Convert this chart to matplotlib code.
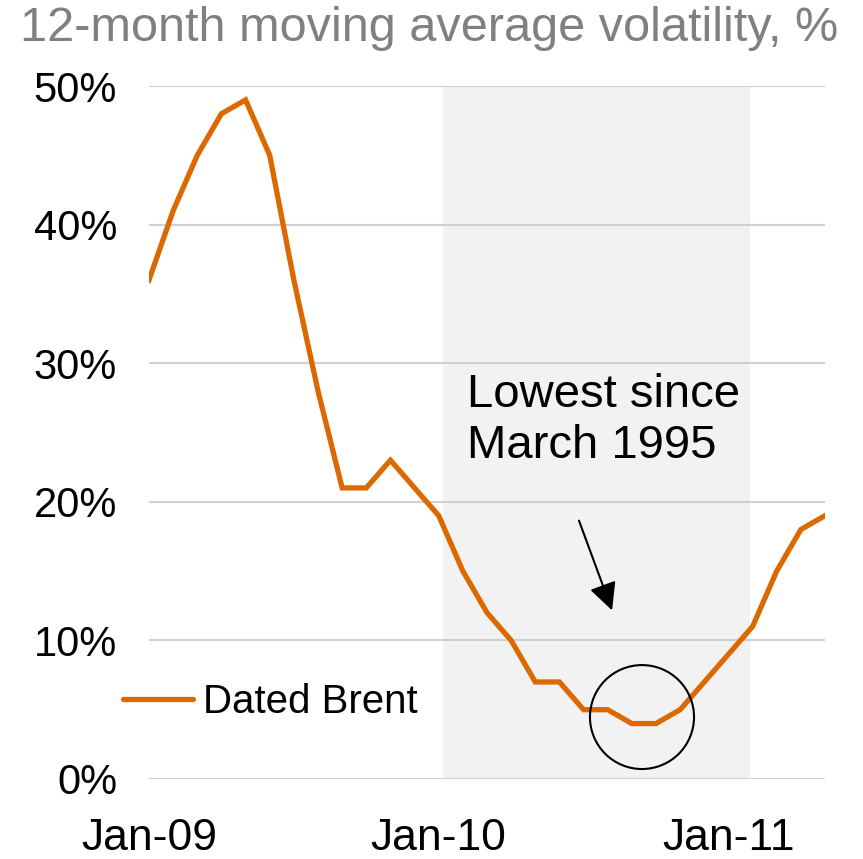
import matplotlib
matplotlib.use('Agg')
import matplotlib.pyplot as plt
from matplotlib import font_manager
from matplotlib.patches import Ellipse
import numpy as np

# monthly 12m moving average volatility, Jan-09 .. May-11
months = ['Jan-09', 'Feb-09', 'Mar-09', 'Apr-09', 'May-09', 'Jun-09', 'Jul-09', 'Aug-09',
          'Sep-09', 'Oct-09', 'Nov-09', 'Dec-09', 'Jan-10', 'Feb-10', 'Mar-10', 'Apr-10',
          'May-10', 'Jun-10', 'Jul-10', 'Aug-10', 'Sep-10', 'Oct-10', 'Nov-10', 'Dec-10',
          'Jan-11', 'Feb-11', 'Mar-11', 'Apr-11', 'May-11']
brent = [36, 41, 45, 48, 49, 45, 36, 28, 21, 21, 23, 21, 19, 15, 12, 10,
         7, 7, 5, 5, 4, 4, 5, 7, 9, 11, 15, 18, 19]
tick_labels = ['Jan-09', 'Jan-10', 'Jan-11']
yticks = [0, 10, 20, 30, 40, 50]

names = set(f.name for f in font_manager.fontManager.ttflist)
narrow = 'Liberation Sans Narrow' if 'Liberation Sans Narrow' in names else 'Liberation Sans'
plt.rcParams['font.family'] = 'Liberation Sans'

fig = plt.figure(figsize=(8.63, 8.59), dpi=100)
ax = fig.add_axes([149/863, 1-779/859, (825-149)/863, (779-86)/859])

x = np.arange(len(months))
ax.axvspan(12.18, 24.9, color='#f2f2f2', zorder=0, lw=0)
ax.plot(x, brent, color='#dc6900', lw=3.8, solid_joinstyle='miter', label='Dated Brent', zorder=3)

ax.set_xlim(0, len(months) - 1)
ax.set_ylim(0, 50)
ax.set_yticks(yticks)
ax.set_yticklabels([f'{v}%' for v in yticks], fontsize=30)
ax.yaxis.grid(True, color='#d0d0d0', lw=1.5)
ax.set_axisbelow(True)
ax.set_xticks([months.index(t) for t in tick_labels])
ax.set_xticklabels(tick_labels, fontsize=32, family=narrow)
ax.tick_params(axis='y', length=0, pad=23)
ax.tick_params(axis='x', length=0, pad=28)
for s in ax.spines.values():
    s.set_visible(False)

# highlight of the low point
ax.add_patch(Ellipse((20.42, 4.47), 4.31, 7.5, fill=False, ec='black', lw=1.5, zorder=4))
ax.annotate('', xy=(19.22, 11.98), xytext=(17.77, 18.83),
            arrowprops=dict(arrowstyle='-|>', color='black', lw=1.5, mutation_scale=42))
ax.text(13.17, 29.3, 'Lowest since\nMarch 1995', fontsize=34, va='top', ha='left',
        linespacing=1.2)

leg = ax.legend(loc='center left', bbox_to_anchor=(-0.038, 0.111), frameon=False,
                fontsize=29, handlelength=1.72, handletextpad=0.25, borderpad=0, borderaxespad=0)
for h in leg.get_lines():
    h.set_solid_capstyle('round')

fig.text(20/863, 1-6/859, '12-month moving average volatility, %', fontsize=35,
         family=narrow, color='#808080', va='top', ha='left')

fig.savefig('out.png', dpi=100)
